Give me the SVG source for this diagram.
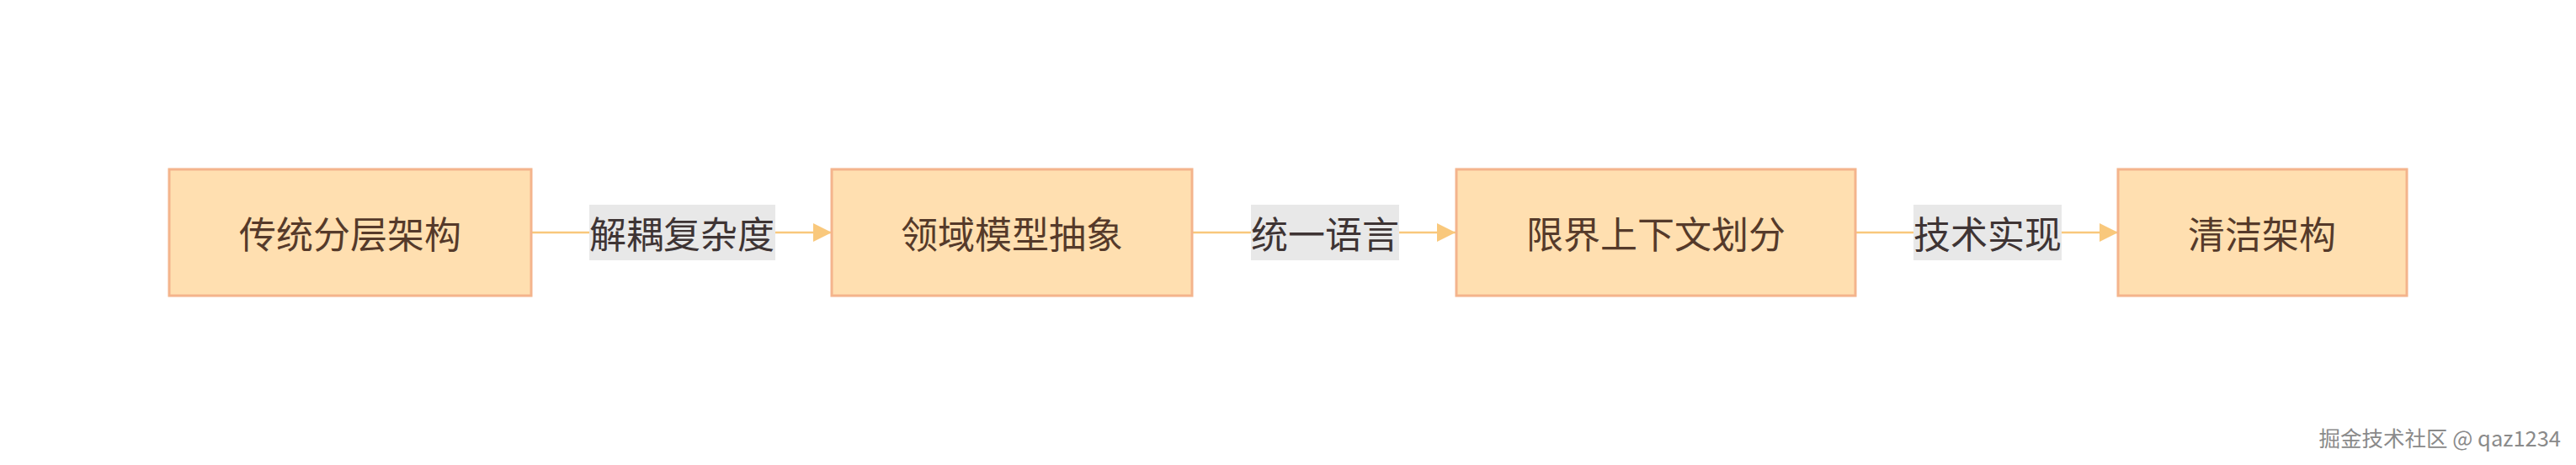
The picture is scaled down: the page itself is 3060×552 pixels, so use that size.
<svg xmlns="http://www.w3.org/2000/svg" width="3060" height="552" viewBox="0 0 3060 552">
<style>
.node rect{fill:#ffdfb0;stroke:#f4b48c;stroke-width:3}
.node text{font-family:"Noto Sans CJK SC","Noto Sans",sans-serif;font-size:44px;fill:#553a2a;text-anchor:middle;dominant-baseline:central}
.edge{stroke:#f9c87c;stroke-width:2.5;fill:none}
.lbl rect{fill:#e8e8e8}
.lbl text{font-family:"Noto Sans CJK SC","Noto Sans",sans-serif;font-size:44px;fill:#3e3434;text-anchor:middle;dominant-baseline:central}
.wm{font-family:"Noto Sans CJK SC","Noto Sans",sans-serif;font-size:25.5px;fill:#8a8a8a}
</style>
<defs>
<marker id="arr" markerWidth="22" markerHeight="22" refX="22" refY="11" orient="auto" markerUnits="userSpaceOnUse">
<path d="M0,0 L22,11 L0,22 Z" fill="#f9c87c"/>
</marker>
</defs>
<rect width="3060" height="552" fill="#ffffff"/>
<g id="connectors">
<path class="edge" d="M631,276 L988,276" marker-end="url(#arr)"/>
<path class="edge" d="M1416,276 L1729,276" marker-end="url(#arr)"/>
<path class="edge" d="M2204,276 L2516,276" marker-end="url(#arr)"/>
<g class="lbl"><rect x="700" y="243" width="221" height="66"/><text x="810" y="276">解耦复杂度</text></g>
<g class="lbl"><rect x="1486" y="243" width="176" height="66"/><text x="1574" y="276">统一语言</text></g>
<g class="lbl"><rect x="2273" y="243" width="176" height="66"/><text x="2361" y="276">技术实现</text></g>
</g>
<g id="n1" class="node"><rect x="201" y="201" width="430" height="150"/><text x="416" y="276">传统分层架构</text></g>
<g id="n2" class="node"><rect x="988" y="201" width="428" height="150"/><text x="1202" y="276">领域模型抽象</text></g>
<g id="n3" class="node"><rect x="1730" y="201" width="474" height="150"/><text x="1967" y="276">限界上下文划分</text></g>
<g id="n4" class="node"><rect x="2516" y="201" width="343" height="150"/><text x="2687" y="276">清洁架构</text></g>
<text class="wm" x="3042" y="530" text-anchor="end" style="paint-order:stroke;stroke:#ffffff;stroke-width:1.5">掘金技术社区 @ qaz1234</text>
</svg>
